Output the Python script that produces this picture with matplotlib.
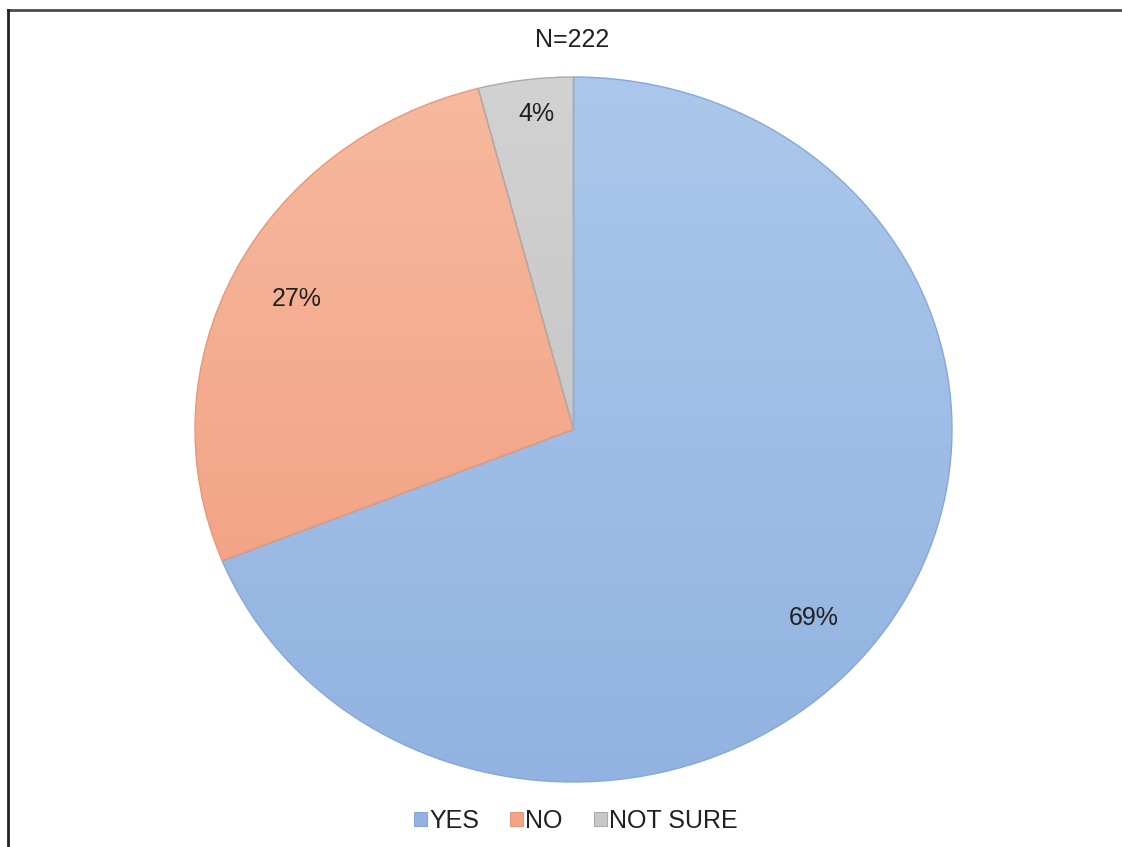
import numpy as np
import matplotlib
matplotlib.use("Agg")
import matplotlib.pyplot as plt
from matplotlib.colors import to_rgb
from matplotlib.lines import Line2D

plt.rcParams['font.family'] = ['Liberation Sans', 'DejaVu Sans']

# Survey responses (N=222)
labels = ['YES', 'NO', 'NOT SURE']
counts = [153, 60, 9]
top_colors = ['#abc7eb', '#f6b99e', '#d2d2d2']
bottom_colors = ['#92b3e1', '#f3a486', '#c8c8c8']
edge_colors = ['#86a8d8', '#e39a7a', '#ababab']
label_r = [0.83, 0.82, 0.90]
label_shift = [-6, 0, -1]   # degrees, nudges the labels off the slice centre line

fig = plt.figure(figsize=(11.22, 8.47), dpi=100)
ax = fig.add_axes([195 / 1122, 65 / 847, 757 / 1122, 705 / 847])

wedges, _ = ax.pie(counts, startangle=90, counterclock=False, radius=1,
                   colors=[c for c in top_colors],
                   wedgeprops=dict(linewidth=1.0))

total = sum(counts)
for w, top, bot, ec, r, sh, n in zip(wedges, top_colors, bottom_colors,
                                     edge_colors, label_r, label_shift, counts):
    # vertical gradient fill clipped to the slice
    ext = w.get_path().get_extents()
    t = np.linspace(0, 1, 256)[:, None]
    grad = (1 - t) * np.array(to_rgb(top)) + t * np.array(to_rgb(bot))
    img = ax.imshow(grad[:, None, :], extent=(ext.x0, ext.x1, ext.y0, ext.y1),
                    aspect='auto', zorder=0, interpolation='bilinear')
    img.set_clip_path(w)
    w.set_facecolor('none')
    w.set_edgecolor(ec)

    mid = np.deg2rad((w.theta1 + w.theta2) / 2 + sh)
    ax.text(r * np.cos(mid), r * np.sin(mid), f"{100 * n / total:.0f}%",
            ha='center', va='center', fontsize=18, color='#202020')

ax.set_aspect('auto')
ax.set_xlim(-1, 1)
ax.set_ylim(-1, 1)
ax.axis('off')

fig.text(572 / 1122, 1 - 40 / 847, f"N={total}", ha='center', va='center',
         fontsize=18, color='#202020')

handles = [plt.Rectangle((0, 0), 1, 1, facecolor=c, edgecolor=e, linewidth=0.8)
           for c, e in zip(bottom_colors, edge_colors)]
fig.legend(handles, labels, loc='center', bbox_to_anchor=(576 / 1122, 1 - 821 / 847),
           ncol=3, frameon=False, fontsize=18, handlelength=0.5, handleheight=0.5,
           handletextpad=0.1, columnspacing=1.25, labelcolor='#202020')

# chart border (top and left edges)
fig.add_artist(Line2D([8 / 1122, 1.01], [1 - 10.5 / 847] * 2, color='#4a4a4a',
                      linewidth=2, transform=fig.transFigure))
fig.add_artist(Line2D([8 / 1122] * 2, [-0.01, 1 - 10.5 / 847], color='#222222',
                      linewidth=2, transform=fig.transFigure))

fig.savefig('out.png', dpi=100, facecolor='white')
